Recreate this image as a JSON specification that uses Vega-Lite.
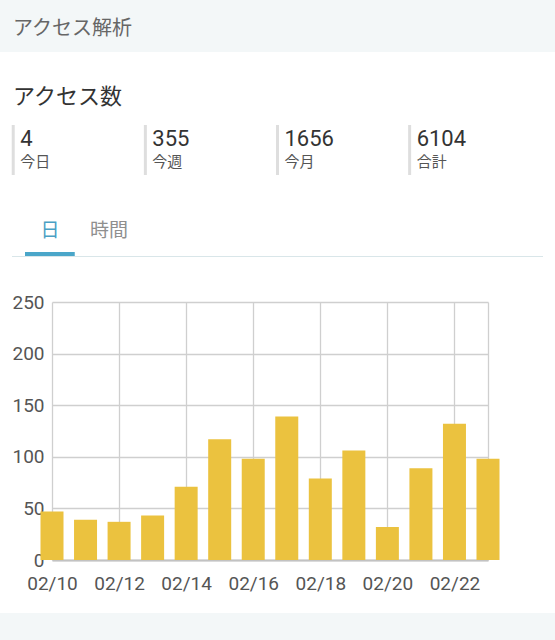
{
  "$schema": "https://vega.github.io/schema/vega-lite/v6.json",
  "background": "#ffffff",
  "padding": 0,
  "spacing": 0,
  "config": {
    "view": {"stroke": null},
    "font": "Roboto, 'Noto Sans CJK JP', sans-serif",
    "concat": {"spacing": 0}
  },
  "datasets": {
    "tabs": [
      {"tab": "日", "state": "selected"},
      {"tab": "時間", "state": "unselected"}
    ]
  },
  "vconcat": [
    {
      "width": 555,
      "height": 52,
      "view": {"fill": "#f3f7f8", "stroke": null},
      "data": {"values": [{"heading": "アクセス解析"}]},
      "mark": {"type": "text", "align": "left", "baseline": "middle", "fontSize": 20, "color": "#666666", "dx": 13, "dy": 2.5},
      "encoding": {
        "text": {"field": "heading", "type": "nominal"},
        "x": {"field": "heading", "type": "nominal", "axis": null, "scale": {"type": "band", "paddingInner": 0, "paddingOuter": 0}, "bandPosition": 0}
      }
    },
    {
      "width": 555,
      "height": 71,
      "data": {"values": [{"heading": "アクセス数"}]},
      "mark": {"type": "text", "align": "left", "baseline": "middle", "fontSize": 22, "color": "#333333", "dx": 13, "dy": 9},
      "encoding": {
        "text": {"field": "heading", "type": "nominal"},
        "x": {"field": "heading", "type": "nominal", "axis": null, "scale": {"type": "band", "paddingInner": 0, "paddingOuter": 0}, "bandPosition": 0}
      }
    },
    {
      "width": 555,
      "height": 50,
      "data": {"values": [
        {"period": "今日", "count": 4},
        {"period": "今週", "count": 355},
        {"period": "今月", "count": 1656},
        {"period": "合計", "count": 6104}
      ]},
      "encoding": {
        "x": {"field": "period", "type": "nominal", "sort": null, "axis": null, "scale": {"type": "band", "paddingInner": 0, "paddingOuter": 0.1, "align": 0.5}, "bandPosition": 0}
      },
      "layer": [
        {"mark": {"type": "rule", "strokeWidth": 3, "color": "#dedede"}, "encoding": {}},
        {"mark": {"type": "text", "align": "left", "baseline": "middle", "fontSize": 22, "color": "#333333", "dx": 7, "dy": -11.5},
         "encoding": {"text": {"field": "count", "type": "nominal"}}},
        {"mark": {"type": "text", "align": "left", "baseline": "middle", "fontSize": 15, "color": "#555555", "dx": 7, "dy": 11.5},
         "encoding": {"text": {"field": "period", "type": "nominal"}}}
      ]
    },
    {
      "width": 555,
      "height": 75,
      "data": {"name": "tabs"},
      "mark": {"type": "text", "align": "center", "baseline": "middle", "fontSize": 19, "dy": 16},
      "encoding": {
        "x": {"field": "tab", "type": "nominal", "sort": null, "axis": null, "scale": {"type": "band", "domain": ["日", "時間"], "range": [25, 134], "paddingInner": 0.16, "paddingOuter": 0}},
        "text": {"field": "tab", "type": "nominal"},
        "color": {"field": "state", "type": "nominal", "scale": {"domain": ["selected", "unselected"], "range": ["#4a9fc4", "#8f8f8f"]}, "legend": null}
      }
    },
    {
      "width": 555,
      "height": 4,
      "data": {"name": "tabs"},
      "transform": [{"filter": "datum.state === 'selected'"}],
      "mark": {"type": "rect", "color": "#4aa6c9"},
      "encoding": {
        "x": {"field": "tab", "type": "nominal", "sort": null, "axis": null, "scale": {"type": "band", "domain": ["日", "時間"], "range": [25, 134], "paddingInner": 0.16, "paddingOuter": 0}}
      }
    },
    {
      "width": 555,
      "height": 37,
      "data": {"values": [{"part": "tab divider"}]},
      "mark": {"type": "rect", "color": "#d9e6e9"},
      "encoding": {
        "x": {"field": "part", "type": "nominal", "axis": null, "scale": {"type": "band", "range": [12, 543], "paddingInner": 0, "paddingOuter": 0}},
        "y": {"field": "part", "type": "nominal", "axis": null, "scale": {"type": "band", "range": [0, 1], "paddingInner": 0, "paddingOuter": 0}}
      }
    },
    {
      "width": 488,
      "height": 258,
      "view": {"stroke": null},
      "data": {"values": [
        {"date": "2017-02-10", "visits": 47},
        {"date": "2017-02-11", "visits": 39},
        {"date": "2017-02-12", "visits": 37},
        {"date": "2017-02-13", "visits": 43},
        {"date": "2017-02-14", "visits": 71},
        {"date": "2017-02-15", "visits": 117},
        {"date": "2017-02-16", "visits": 98},
        {"date": "2017-02-17", "visits": 139},
        {"date": "2017-02-18", "visits": 79},
        {"date": "2017-02-19", "visits": 106},
        {"date": "2017-02-20", "visits": 32},
        {"date": "2017-02-21", "visits": 89},
        {"date": "2017-02-22", "visits": 132},
        {"date": "2017-02-23", "visits": 98}
      ]},
      "mark": {"type": "bar", "width": 23, "color": "#ebc23f"},
      "encoding": {
        "x": {
          "field": "date", "type": "temporal",
          "scale": {"type": "utc", "nice": false, "padding": 0, "range": [52, 488], "domain": [
            {"year": 2017, "month": 2, "date": 10, "utc": true},
            {"year": 2017, "month": 2, "date": 23, "utc": true}
          ]},
          "axis": {
            "title": null, "format": "%m/%d",
            "values": [
              {"year": 2017, "month": 2, "date": 10, "utc": true},
              {"year": 2017, "month": 2, "date": 12, "utc": true},
              {"year": 2017, "month": 2, "date": 14, "utc": true},
              {"year": 2017, "month": 2, "date": 16, "utc": true},
              {"year": 2017, "month": 2, "date": 18, "utc": true},
              {"year": 2017, "month": 2, "date": 20, "utc": true},
              {"year": 2017, "month": 2, "date": 22, "utc": true},
              {"year": 2017, "month": 2, "date": 23, "utc": true}
            ],
            "labelExpr": "utcdate(datum.value) == 23 ? '' : datum.label",
            "grid": true, "gridColor": "#cfcfcf", "gridWidth": 1.3,
            "ticks": false, "domainColor": "#c2c2c2", "domainWidth": 2,
            "labelFontSize": 19, "labelColor": "#555555", "labelPadding": 14,
            "labelFlush": false, "labelOverlap": false
          }
        },
        "y": {
          "field": "visits", "type": "quantitative",
          "scale": {"domain": [0, 250], "nice": false},
          "axis": {
            "title": null, "values": [0, 50, 100, 150, 200, 250],
            "offset": -52,
            "grid": true, "gridColor": "#cfcfcf", "gridWidth": 1.3,
            "ticks": false, "domain": false,
            "labelFontSize": 19, "labelColor": "#555555", "labelPadding": 8,
            "labelFlush": false
          }
        }
      }
    },
    {
      "width": 555,
      "height": 60,
      "data": {"values": [{"part": "footer"}]},
      "mark": {"type": "rect", "color": "#f3f7f8"},
      "encoding": {
        "y": {"field": "part", "type": "nominal", "axis": null, "scale": {"type": "band", "range": [20, 60], "paddingInner": 0, "paddingOuter": 0}}
      }
    }
  ]
}
